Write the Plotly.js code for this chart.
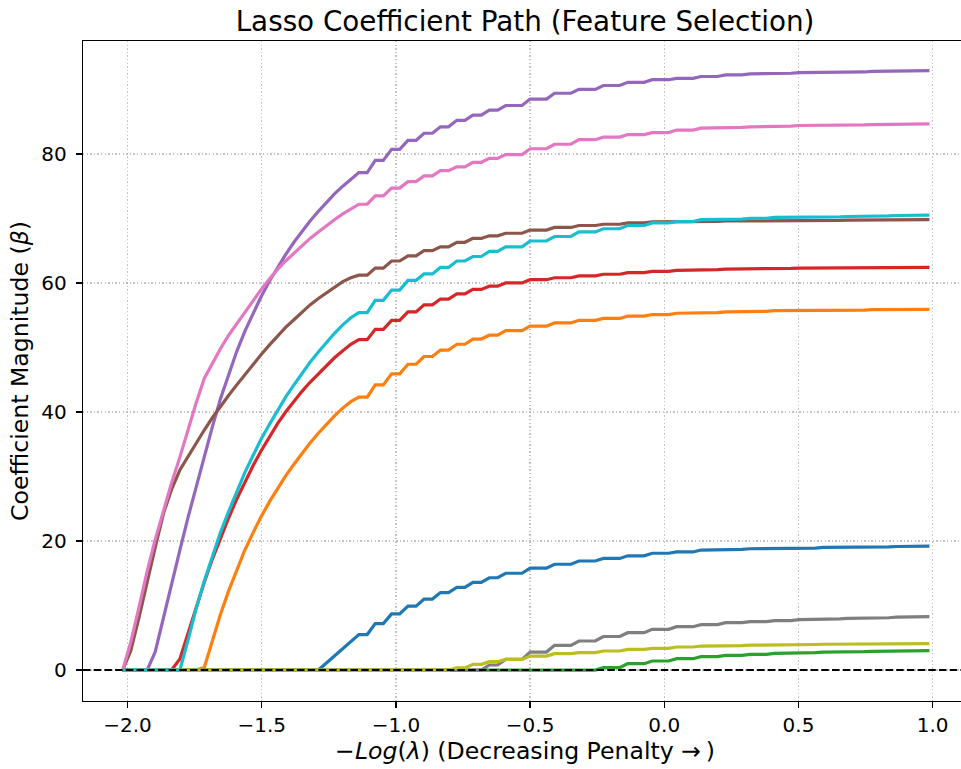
<!DOCTYPE html>
<html>
<head>
<meta charset="utf-8">
<script src="https://cdn.plot.ly/plotly-3.0.1.min.js"></script>
<style>
html, body { margin: 0; padding: 0; overflow: hidden; background: #ffffff; }
#chart { width: 970px; height: 769px; }
</style>
</head>
<body>
<div id="chart"></div>
<script>
// -Log(lambda) grid
const xVals = [
-2.018,-1.988,-1.957,-1.927,-1.897,-1.866,-1.836,-1.805,-1.775,-1.745,
-1.714,-1.684,-1.654,-1.623,-1.593,-1.563,-1.532,-1.502,-1.471,-1.441,
-1.411,-1.380,-1.350,-1.320,-1.289,-1.259,-1.229,-1.198,-1.168,-1.138,
-1.107,-1.077,-1.047,-1.016,-0.986,-0.955,-0.925,-0.895,-0.864,-0.834,
-0.804,-0.773,-0.743,-0.713,-0.682,-0.652,-0.621,-0.591,-0.561,-0.530,
-0.500,-0.470,-0.439,-0.409,-0.379,-0.348,-0.318,-0.287,-0.257,-0.227,
-0.196,-0.166,-0.136,-0.105,-0.075,-0.045,-0.014,0.016,0.046,0.077,
0.107,0.137,0.168,0.198,0.229,0.259,0.289,0.320,0.350,0.380,
0.411,0.441,0.472,0.502,0.532,0.563,0.593,0.623,0.654,0.684,
0.714,0.745,0.775,0.806,0.836,0.866,0.897,0.927,0.957,0.988
];

const coefBlue = [
0,0,0,0,0,0,0,0,0,0, 0,0,0,0,0,0,0,0,0,0, 0,0,0,0,0,1.1,2.2,3.3,4.4,
5.5,5.5,7.2,7.2,8.7,8.7,9.9,9.9,11.0,11.0,12.0,12.0,12.8,12.8,13.6,13.6,14.3,14.3,
15.0,15.0,15.0,15.8,15.8,15.8,16.4,16.4,16.4,16.9,16.9,16.9,17.3,17.3,17.3,
17.7,17.7,17.7,18.1,18.1,18.1,18.3,18.3,18.3,18.6,18.6,18.6,18.7,18.7,18.7,
18.8,18.8,18.8,18.85,18.85,18.85,18.9,18.9,18.9,19.0,19.0,19.0,19.05,19.05,19.05,
19.1,19.1,19.1,19.15,19.15,19.15,19.2,19.2
];

const coefOrange = [
0,0,0,0,0,0,0,0,0,0,
0.4,4.6,8.6,12.3,15.6,18.6,21.3,23.8,26.1,28.2,30.1,31.9,33.6,35.2,36.7,38.1,39.4,40.6,41.6,
42.3,42.3,44.2,44.2,45.9,45.9,47.4,47.4,48.6,48.6,49.6,49.6,50.5,50.5,51.3,51.3,51.9,51.9,
52.6,52.6,52.6,53.3,53.3,53.3,53.8,53.8,53.8,54.2,54.2,54.2,54.5,54.5,54.5,
54.85,54.85,54.85,55.1,55.1,55.1,55.3,55.3,55.3,55.4,55.4,55.4,55.5,55.5,55.5,
55.6,55.6,55.6,55.7,55.7,55.7,55.75,55.75,55.75,55.8,55.8,55.8,55.8,55.8,55.8,
55.85,55.85,55.85,55.9,55.9,55.9,55.9,55.9
];

const coefGreen = [
0,0,0,0,0,0,0,0,0,0, 0,0,0,0,0,0,0,0,0,0, 0,0,0,0,0,0,0,0,0,0,
0,0,0,0,0,0,0,0,0,0, 0,0,0,0,0,0,0,0,0,0, 0,0,0,0,0,0,0,0,0,
0.36,0.36,0.36,0.99,0.99,0.99,1.4,1.4,1.4,1.76,1.76,1.76,2.07,2.07,2.07,
2.28,2.28,2.28,2.43,2.43,2.43,2.59,2.59,2.59,2.69,2.69,2.69,2.77,2.77,2.77,
2.84,2.84,2.84,2.9,2.9,2.9,2.95,2.95,2.95,3.0,3.0
];

const coefRed = [
0,0,0,0,0,0,0,
1.7,5.6,9.7,13.6,17.2,20.5,23.6,26.5,29.2,31.7,34.0,36.2,38.2,40.0,41.7,43.2,44.6,45.9,47.2,48.4,49.5,50.5,
51.2,51.2,52.8,52.8,54.2,54.2,55.5,55.5,56.6,56.6,57.5,57.5,58.3,58.3,59.0,59.0,59.5,59.5,
60.0,60.0,60.0,60.5,60.5,60.5,60.8,60.8,60.8,61.1,61.1,61.1,61.35,61.35,61.35,
61.6,61.6,61.6,61.8,61.8,61.8,61.95,61.95,61.95,62.05,62.05,62.05,62.15,62.15,62.15,
62.2,62.2,62.2,62.25,62.25,62.25,62.3,62.3,62.3,62.3,62.3,62.3,62.35,62.35,62.35,
62.35,62.35,62.35,62.4,62.4,62.4,62.4,62.4
];

const coefPurple = [
0,0,0,0,2.8,8.3,13.5,18.6,23.6,28.4,33.2,37.7,42.0,45.9,49.4,52.5,55.3,57.9,60.3,62.4,
64.4,66.3,68.0,69.6,71.1,72.5,73.8,75.0,76.1,
77.1,77.1,79.0,79.0,80.7,80.7,82.1,82.1,83.2,83.2,84.2,84.2,85.2,85.2,86.0,86.0,86.8,86.8,
87.5,87.5,87.5,88.5,88.5,88.5,89.4,89.4,89.4,90.0,90.0,90.0,90.6,90.6,90.6,
91.1,91.1,91.1,91.5,91.5,91.5,91.7,91.7,91.7,92.0,92.0,92.0,92.25,92.25,92.25,
92.4,92.4,92.4,92.5,92.5,92.5,92.6,92.6,92.6,92.65,92.65,92.65,92.7,92.7,92.7,
92.8,92.8,92.8,92.85,92.85,92.85,92.9,92.9
];

const coefBrown = [
0,3.0,8.2,13.7,19.0,24.3,28.0,31.0,33.1,35.1,37.2,39.1,40.9,42.6,44.2,45.8,47.4,48.9,50.4,51.8,
53.1,54.3,55.5,56.6,57.6,58.5,59.4,60.2,60.8,
61.2,61.2,62.3,62.3,63.4,63.4,64.2,64.2,65.0,65.0,65.6,65.6,66.3,66.3,66.9,66.9,67.3,67.3,
67.7,67.7,67.7,68.2,68.2,68.2,68.6,68.6,68.6,68.9,68.9,68.9,69.1,69.1,69.1,
69.3,69.3,69.3,69.45,69.45,69.45,69.5,69.5,69.5,69.55,69.55,69.55,69.6,69.6,69.6,
69.65,69.65,69.65,69.65,69.65,69.65,69.7,69.7,69.7,69.7,69.7,69.7,69.75,69.75,69.75,
69.75,69.75,69.75,69.8,69.8,69.8,69.8,69.8
];

const coefPink = [
0,4.3,9.8,15.3,20.2,24.8,29.0,33.0,37.2,41.3,45.2,47.6,49.8,51.9,53.7,55.5,57.3,59.0,60.6,62.1,
63.4,64.6,65.8,66.9,67.9,68.9,69.8,70.7,71.5,
72.2,72.2,73.5,73.5,74.7,74.7,75.7,75.7,76.6,76.6,77.4,77.4,78.0,78.0,78.7,78.7,79.3,79.3,
79.9,79.9,79.9,80.8,80.8,80.8,81.5,81.5,81.5,82.2,82.2,82.2,82.6,82.6,82.6,
83.0,83.0,83.0,83.3,83.3,83.3,83.7,83.7,83.7,84.0,84.0,84.0,84.1,84.1,84.1,
84.2,84.2,84.2,84.3,84.3,84.3,84.4,84.4,84.4,84.45,84.45,84.45,84.5,84.5,84.5,
84.55,84.55,84.55,84.6,84.6,84.6,84.65,84.65
];

const coefGray = [
0,0,0,0,0,0,0,0,0,0, 0,0,0,0,0,0,0,0,0,0, 0,0,0,0,0,0,0,0,0,0,
0,0,0,0,0,0,0,0,0,0, 0,0,0,0,0,
0.78,0.78,
1.65,1.65,1.65,2.79,2.79,2.79,3.83,3.83,3.83,4.5,4.5,4.5,5.2,5.2,5.2,
5.79,5.79,5.79,6.3,6.3,6.3,6.72,6.72,6.72,7.03,7.03,7.03,7.34,7.34,7.34,
7.5,7.5,7.5,7.66,7.66,7.66,7.8,7.8,7.8,7.92,7.92,7.92,8.02,8.02,8.02,
8.1,8.1,8.1,8.2,8.2,8.2,8.27,8.27
];

const coefOlive = [
0,0,0,0,0,0,0,0,0,0, 0,0,0,0,0,0,0,0,0,0, 0,0,0,0,0,0,0,0,0,0,
0,0,0,0,0,0,0,0,0,0, 0,
0.33,0.33,0.88,0.88,1.29,1.29,
1.65,1.65,1.65,2.17,2.17,2.17,2.53,2.53,2.53,2.69,2.69,2.69,2.95,2.95,2.95,
3.2,3.2,3.2,3.36,3.36,3.36,3.57,3.57,3.57,3.72,3.72,3.72,3.77,3.77,3.77,
3.85,3.85,3.85,3.93,3.93,3.93,3.96,3.96,3.96,4.0,4.0,4.0,4.02,4.02,4.02,
4.05,4.05,4.05,4.07,4.07,4.07,4.09,4.09
];

const coefCyan = [
0,0,0,0,0,0,0,0,
4.6,9.4,13.8,17.7,21.3,24.6,27.7,30.6,33.3,35.8,38.1,40.3,42.3,44.2,46.0,47.7,49.3,50.8,52.2,53.5,54.6,
55.4,55.4,57.3,57.3,58.9,58.9,60.4,60.4,61.4,61.4,62.4,62.4,63.4,63.4,64.1,64.1,64.9,64.9,
65.6,65.6,65.6,66.5,66.5,66.5,67.2,67.2,67.2,67.9,67.9,67.9,68.4,68.4,68.4,
68.9,68.9,68.9,69.3,69.3,69.3,69.5,69.5,69.5,69.8,69.8,69.8,69.9,69.9,69.9,
70.0,70.0,70.0,70.15,70.15,70.15,70.2,70.2,70.2,70.25,70.25,70.25,70.3,70.3,70.3,
70.4,70.4,70.4,70.45,70.45,70.45,70.5,70.5
];

const seriesList = [coefBlue, coefOrange, coefGreen, coefRed, coefPurple, coefBrown, coefPink, coefGray, coefOlive, coefCyan];
const seriesColors = ['#1f77b4','#ff7f0e','#2ca02c','#d62728','#9467bd','#8c564b','#e377c2','#7f7f7f','#bcbd22','#17becf'];

const xTickVals = [-2.0, -1.5, -1.0, -0.5, 0.0, 0.5, 1.0];
const xTickText = ['\u22122.0', '\u22121.5', '\u22121.0', '\u22120.5', '0.0', '0.5', '1.0'];
const yTickVals = [0, 20, 40, 60, 80];
const yTickText = ['0', '20', '40', '60', '80'];

const traces = seriesList.map(function (vals, k) {
  return {
    x: xVals,
    y: vals,
    type: 'scatter',
    mode: 'lines',
    line: { color: seriesColors[k], width: 3.2 },
    hoverinfo: 'skip',
    showlegend: false
  };
});

const gridCol = 'rgba(176,176,176,0.75)';
const axisCommon = {
  ticks: 'outside',
  ticklen: 6,
  tickwidth: 1.35,
  tickcolor: '#000',
  showline: true,
  linecolor: '#000',
  linewidth: 1.35,
  mirror: true,
  showgrid: true,
  gridcolor: gridCol,
  gridwidth: 1.2,
  griddash: '1.4px,2.2px',
  zeroline: false,
  tickfont: { family: 'DejaVu Sans', size: 20, color: '#000' },
  automargin: false,
  fixedrange: true
};

const layout = {
  width: 970,
  height: 769,
  margin: { l: 83, r: 3, t: 41, b: 68, pad: 0 },
  paper_bgcolor: '#ffffff',
  plot_bgcolor: '#ffffff',
  showlegend: false,
  font: { family: 'DejaVu Sans', color: '#000' },
  title: {
    text: 'Lasso Coefficient Path (Feature Selection)',
    font: { family: 'DejaVu Sans', size: 27.8, color: '#000' },
    xref: 'paper', x: 0.5, xanchor: 'center',
    yref: 'container', y: 1 - 21 / 769, yanchor: 'middle'
  },
  xaxis: Object.assign({}, axisCommon, {
    range: [-2.166, 1.128],
    tickmode: 'array',
    tickvals: xTickVals,
    ticktext: xTickText,
    title: {
      text: '\u2212<i>Log</i>(<i>\u03bb</i>) (Decreasing Penalty \u2192\u2009)',
      font: { family: 'DejaVu Sans', size: 23.6, color: '#000' },
      standoff: 5
    }
  }),
  yaxis: Object.assign({}, axisCommon, {
    range: [-4.8, 97.5],
    tickmode: 'array',
    tickvals: yTickVals,
    ticktext: yTickText,
    ticklabelstandoff: 5,
    title: {
      text: 'Coefficient Magnitude (<i>\u03b2</i>)',
      font: { family: 'DejaVu Sans', size: 23.6, color: '#000' },
      standoff: 6
    }
  }),
  shapes: [{
    type: 'line', xref: 'paper', x0: 0, x1: 1, yref: 'y', y0: 0, y1: 0,
    line: { color: '#000', width: 2, dash: '7.5px,3.2px' },
    layer: 'above'
  }]
};

Plotly.newPlot('chart', traces, layout, { staticPlot: true, displayModeBar: false });
</script>
</body>
</html>
